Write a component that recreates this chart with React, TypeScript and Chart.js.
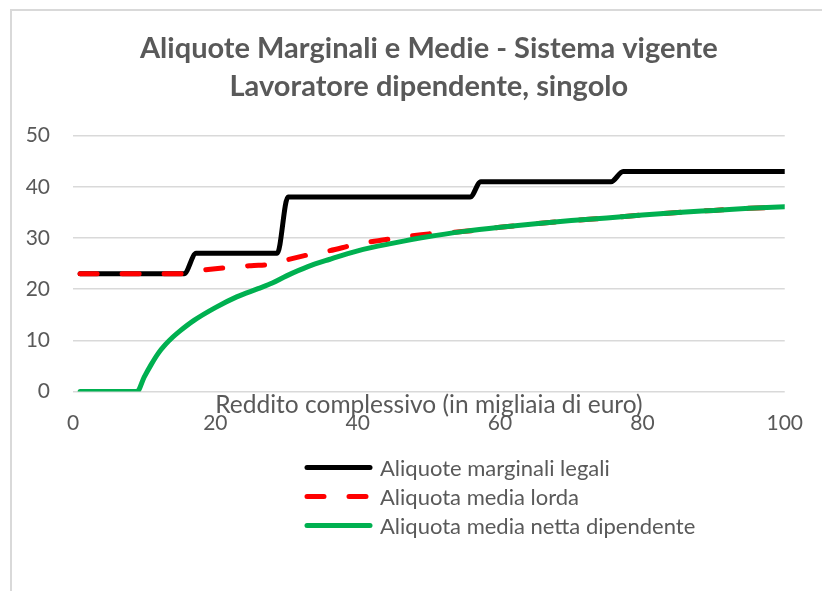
import React, { useEffect, useRef } from 'react';
import { Chart, registerables } from 'chart.js';

Chart.register(...registerables);

const TITLE_LINES = ['Aliquote Marginali e Medie - Sistema vigente', 'Lavoratore dipendente, singolo'];
const X_TITLE = 'Reddito complessivo (in migliaia di euro)';
const SERIES_NAMES = ['Aliquote marginali legali', 'Aliquota media lorda', 'Aliquota media netta dipendente'];

const X_TICKS = [0, 20, 40, 60, 80, 100];
const Y_TICKS = [0, 10, 20, 30, 40, 50];

// Aliquote marginali legali
const marginalX = [1, 15.6, 17.3, 28.7, 30.2, 55.8, 57.3, 75.6, 77.3, 100];
const marginalY = [23, 23, 27, 27, 38, 38, 41, 41, 43, 43];

// Aliquota media lorda
const grossX = [1, 15, 17, 20, 25, 28, 30, 33, 36, 40, 45, 50, 55, 60, 65, 70, 75, 80, 85, 90, 95, 100];
const grossY = [23, 23, 23.5, 24.0, 24.6, 24.9, 25.7, 26.7, 27.5, 28.8, 29.9, 30.8, 31.3, 32.1, 32.8, 33.4, 33.9, 34.5, 35.0, 35.4, 35.8, 36.1];

// Aliquota media netta dipendente
const netX = [1, 9, 10, 11, 12, 13, 14, 15, 17, 20, 23, 26, 28, 30, 33, 36, 40, 45, 50, 55, 60, 65, 70, 75, 80, 85, 90, 95, 100];
const netY = [0, 0, 2.8, 5.3, 7.5, 9.2, 10.6, 11.8, 13.9, 16.4, 18.5, 20.1, 21.2, 22.6, 24.4, 25.8, 27.5, 29.0, 30.3, 31.3, 32.1, 32.8, 33.4, 33.9, 34.5, 35.0, 35.4, 35.8, 36.1];

const COLORS = ['#000000', '#ff0000', '#00b050'];
const TEXT = '#595959';
const GRID = '#d9d9d9';
const FONT = 'Lato';

const toPoints = (xs: number[], ys: number[]) => xs.map((x, i) => ({ x, y: ys[i] }));

const framePlugin = {
  id: 'frame',
  beforeDraw(chart: any) {
    const ctx = chart.ctx;
    ctx.save();
    ctx.strokeStyle = GRID;
    ctx.lineWidth = 2;
    ctx.beginPath();
    ctx.moveTo(11, chart.height);
    ctx.lineTo(11, 10);
    ctx.lineTo(chart.width, 10);
    ctx.stroke();
    ctx.restore();
  },
};

const legendPlugin = {
  id: 'vlegend',
  afterDraw(chart: any) {
    const ctx = chart.ctx;
    const datasets = chart.data.datasets;
    const x0 = 307;
    const x1 = 370;
    const rowY0 = chart.chartArea.bottom + 76;
    const rowGap = 29;
    ctx.save();
    datasets.forEach((ds: any, i: number) => {
      const y = rowY0 + i * rowGap;
      ctx.strokeStyle = ds.borderColor;
      ctx.lineWidth = ds.borderWidth;
      ctx.lineCap = 'round';
      ctx.setLineDash(ds.borderDash || []);
      ctx.beginPath();
      ctx.moveTo(x0, y);
      ctx.lineTo(x1, y);
      ctx.stroke();
      ctx.setLineDash([]);
      ctx.fillStyle = TEXT;
      ctx.font = `22px ${FONT}`;
      ctx.textBaseline = 'middle';
      ctx.textAlign = 'left';
      ctx.fillText(ds.label, 380, y + 1);
    });
    ctx.restore();
  },
};

export default function App() {
  const ref = useRef<HTMLCanvasElement | null>(null);

  useEffect(() => {
    document.body.style.margin = '0';
    if (!ref.current) return;
    const chart = new Chart(ref.current, {
      type: 'line',
      data: {
        datasets: [
          {
            label: SERIES_NAMES[0],
            data: toPoints(marginalX, marginalY),
            borderColor: COLORS[0],
            backgroundColor: COLORS[0],
            borderWidth: 5,
            pointRadius: 0,
            cubicInterpolationMode: 'monotone',
            borderCapStyle: 'round',
            borderJoinStyle: 'round',
            order: 3,
          },
          {
            label: SERIES_NAMES[1],
            data: toPoints(grossX, grossY),
            borderColor: COLORS[1],
            backgroundColor: COLORS[1],
            borderWidth: 5,
            borderDash: [17, 25],
            pointRadius: 0,
            cubicInterpolationMode: 'monotone',
            borderCapStyle: 'round',
            borderJoinStyle: 'round',
            order: 2,
          },
          {
            label: SERIES_NAMES[2],
            data: toPoints(netX, netY),
            borderColor: COLORS[2],
            backgroundColor: COLORS[2],
            borderWidth: 5,
            pointRadius: 0,
            cubicInterpolationMode: 'monotone',
            borderCapStyle: 'round',
            borderJoinStyle: 'round',
            order: 1,
          },
        ] as any,
      },
      options: {
        animation: false,
        responsive: true,
        maintainAspectRatio: false,
        layout: { padding: { left: 0, right: 34, top: 0, bottom: 139.5 } },
        plugins: {
          legend: { display: false },
          tooltip: { enabled: false },
          title: {
            display: true,
            fullSize: false,
            text: TITLE_LINES,
            color: TEXT,
            font: { family: FONT, size: 29, weight: 'bold', lineHeight: 1.31 },
            padding: { top: 30, bottom: 29.7 },
          },
        },
        scales: {
          x: {
            type: 'linear',
            min: 0,
            max: 100,
            afterBuildTicks: (scale: any) => {
              scale.ticks = X_TICKS.map((v) => ({ value: v }));
            },
            afterFit: (scale: any) => {
              scale.height = 60;
            },
            ticks: {
              color: TEXT,
              font: { family: FONT, size: 21, lineHeight: 1.2 },
              padding: 19,
              maxRotation: 0,
            },
            grid: { display: false, drawTicks: false },
            border: { display: false },
            title: {
              display: true,
              text: X_TITLE,
              color: TEXT,
              font: { family: FONT, size: 24.5, lineHeight: 1.2 },
              padding: { top: 0, bottom: 31.3 },
            },
          },
          y: {
            type: 'linear',
            min: 0,
            max: 50,
            afterBuildTicks: (scale: any) => {
              scale.ticks = Y_TICKS.map((v) => ({ value: v }));
            },
            afterFit: (scale: any) => {
              scale.width = 73;
            },
            ticks: {
              color: TEXT,
              font: { family: FONT, size: 21, lineHeight: 1.2 },
              padding: 23,
            },
            grid: { color: GRID, lineWidth: 1.5, drawTicks: false },
            border: { display: false },
          },
        },
      },
      plugins: [framePlugin, legendPlugin],
    });
    return () => chart.destroy();
  }, []);

  return (
    <div style={{ width: 822, height: 591, position: 'relative', background: '#ffffff' }}>
      <canvas ref={ref} />
    </div>
  );
}
